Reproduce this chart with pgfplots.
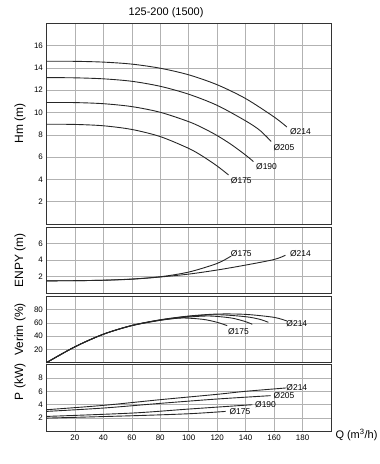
\documentclass[border=0pt]{standalone}
\usepackage{fontspec}
\setmainfont{Liberation Sans}
\usepackage{pgfplots}
\pgfplotsset{compat=1.18}
\newcommand{\dl}{\fontsize{8.5}{9}\selectfont}
\begin{document}
\begin{tikzpicture}
\useasboundingbox (0bp,0bp) rectangle (380bp,-464bp);
\pgfplotsset{
 panel/.style={scale only axis, width=284.6bp, xmin=0, xmax=200,
   xtick={20,40,...,180}, grid=major,
   major grid style={gray!60, line width=0.5pt},
   major tick length=0pt,
   axis line style={black!80, line width=0.6pt},
   tick label style={font=\fontsize{8}{9}\selectfont},
   /pgf/number format/assume math mode=true,
   ylabel style={font=\fontsize{12}{13}\selectfont, at={(axis description cs:-0.093,0.5)}, anchor=center},
   clip=false},
 cv/.style={black!85, line width=0.9pt, smooth, no marks},
}
\node[font=\fontsize{11}{12}\selectfont] at (166bp,-12.5bp) {125-200 (1500)};

% Head
\begin{axis}[panel, at={(46.4bp,-224bp)}, anchor=south west, height=200.7bp,
  ymin=0, ymax=18, ytick={2,4,...,16}, xticklabels={}, ylabel={Hm (m)}]
\addplot[cv] coordinates {(0,14.6) (20,14.59) (40,14.52) (60,14.34) (80,13.97) (100,13.38) (120,12.49) (140,11.25) (160,9.6) (169,8.7)};
\addplot[cv] coordinates {(0,13.13) (20,13.11) (40,13.02) (60,12.8) (80,12.35) (100,11.64) (120,10.64) (140,9.25) (150,8.4) (158,7.4)};
\addplot[cv] coordinates {(0,10.9) (20,10.89) (40,10.79) (60,10.53) (80,10.02) (100,9.18) (110,8.61) (120,7.93) (130,7.12) (140,6.18) (145.5,5.6)};
\addplot[cv] coordinates {(0,8.95) (20,8.93) (40,8.81) (60,8.48) (80,7.84) (100,6.78) (110,6.06) (120,5.2) (128,4.4)};
\node[font=\dl] at (axis cs:178.5,8.3) {Ø214};
\node[font=\dl] at (axis cs:166.9,6.84) {Ø205};
\node[font=\dl] at (axis cs:154.7,5.13) {Ø190};
\node[font=\dl] at (axis cs:137,3.93) {Ø175};
\end{axis}

% NPSH
\begin{axis}[panel, at={(46.4bp,-293bp)}, anchor=south west, height=65.7bp,
  ymin=0, ymax=8, ytick={2,4,6}, xticklabels={}, ylabel={ENPY (m)}]
\addplot[cv] coordinates {(0,1.48) (20,1.5) (40,1.56) (60,1.7) (80,1.98) (100,2.55) (120,3.6) (129.6,4.48)};
\addplot[cv] coordinates {(0,1.48) (20,1.5) (40,1.55) (60,1.68) (80,1.95) (100,2.3) (120,2.8) (140,3.4) (160,4.08) (168,4.6)};
\node[font=\dl] at (axis cs:137,4.76) {Ø175};
\node[font=\dl] at (axis cs:178.5,4.76) {Ø214};
\end{axis}

% Efficiency
\begin{axis}[panel, at={(46.4bp,-362.7bp)}, anchor=south west, height=66.2bp,
  ymin=0, ymax=100, ytick={20,40,60,80}, xticklabels={}, ylabel={Verim (\%)}]
\addplot[cv] coordinates {(0,0) (20,24) (40,43) (60,56) (80,64) (95,67.5) (110,65.5) (120,61) (127,56)};
\addplot[cv] coordinates {(0,0) (20,24) (40,43) (60,56) (80,64.3) (100,69) (115,70.5) (130,67.5) (140,62) (144.7,58)};
\addplot[cv] coordinates {(0,0) (20,24) (40,43) (60,56.2) (80,64.6) (100,70) (120,72.5) (140,69.5) (150,65.5) (156,61)};
\addplot[cv] coordinates {(0,0) (20,24) (40,43) (60,56.3) (80,64.8) (100,70.5) (120,73.5) (140,73) (160,68.5) (169,63)};
\node[font=\dl] at (axis cs:176,59) {Ø214};
\node[font=\dl] at (axis cs:135,47.5) {Ø175};
\end{axis}

% Power
\begin{axis}[panel, at={(46.4bp,-431.5bp)}, anchor=south west, height=67bp,
  ymin=0, ymax=10, ytick={2,4,6,8}, ylabel={P (kW)},
  ylabel style={at={(axis description cs:-0.093,0.74)}}]
\addplot[cv] coordinates {(0,3.25) (40,3.9) (80,4.75) (120,5.55) (140,6.0) (168.5,6.5)};
\addplot[cv] coordinates {(0,3.0) (40,3.5) (80,4.2) (120,4.85) (157.5,5.35)};
\addplot[cv] coordinates {(0,2.25) (60,2.75) (100,3.35) (144.7,4.0)};
\addplot[cv] coordinates {(0,2.0) (60,2.35) (100,2.65) (126,3.0)};
\node[font=\dl] at (axis cs:176,6.5) {Ø214};
\node[font=\dl] at (axis cs:167,5.3) {Ø205};
\node[font=\dl] at (axis cs:154,4.0) {Ø190};
\node[font=\dl] at (axis cs:136,2.9) {Ø175};
\node[font=\fontsize{11}{12}\selectfont, anchor=west] at (rel axis cs:1,0) [xshift=1bp, yshift=-3bp] {Q (m\textsuperscript{3}/h)};
\end{axis}
\end{tikzpicture}
\end{document}
